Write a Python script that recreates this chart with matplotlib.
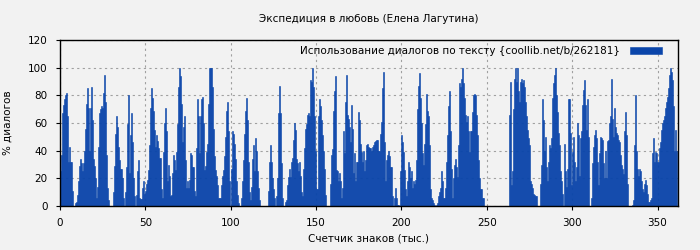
import matplotlib
matplotlib.use("Agg")
import matplotlib.pyplot as plt
import numpy as np

# --- Data (one value per ~0.59k characters) ---
title = "Экспедиция в любовь (Елена Лагутина)"
legend_label = "Использование диалогов по тексту {coollib.net/b/262181}"
x_label = "Счетчик знаков (тыс.)"
y_label = "% диалогов"

text_length_k = 362          # total characters, thousands
x_ticks = [0, 50, 100, 150, 200, 250, 300, 350]
y_ticks = [0, 20, 40, 60, 80, 100, 120]

dialog_pct = [
    # 0 .. 58k
    25, 37, 67, 73, 77, 80, 82, 65, 32, 43, 32, 32, 11, 0, 0,
    2, 3, 8, 18, 29, 34, 31, 25, 31, 40, 56, 74, 85, 71, 40, 71, 86, 62, 34, 29,
    20, 6, 14, 43, 67, 70, 72, 71, 82, 95, 75, 37, 13, 4, 0, 0, 0, 0,
    10, 29, 52, 65, 57, 43, 33, 27, 27, 20, 6, 0,
    10, 28, 59, 80, 24, 51, 67, 46, 20, 7, 0,
    8, 25, 33, 6, 5, 5, 13, 18, 9, 11, 16, 19, 26, 44, 71, 85, 78, 69, 55, 43,
    51, 47, 42, 35,
    # 58 .. 123k
    35, 12, 6, 39, 60, 71, 54, 18, 30, 22,
    7, 8, 24, 37, 33, 26, 39, 59, 86, 100,
    94, 74, 46, 57, 65, 33, 13, 18, 13, 19,
    38, 37, 28, 28, 11, 7, 42, 77, 65, 38,
    65, 77, 79, 60, 26, 29, 39, 45, 74, 100,
    100, 100, 86, 56, 36, 26, 22, 15, 6, 6,
    6, 15, 22, 26, 36, 50, 69, 75, 54, 18,
    0, 27, 54, 52, 45, 34, 18, 8, 2, 0,
    0, 6, 18, 33, 52, 69, 78, 62, 32, 10,
    4, 14, 34, 44, 25, 49, 40, 25, 13, 4,
    0, 0, 0, 0, 0, 0, 0, 0, 11, 32,
    # 123 .. 182k
    44, 32, 20, 12, 6, 0, 7, 20, 67, 87,
    67, 31, 6, 0, 0, 3, 4, 15, 21, 27,
    21, 32, 35, 48, 60, 55, 34, 31, 25, 32,
    22, 10, 7, 27, 42, 56, 59, 66, 67, 65,
    91, 90, 100, 86, 65, 40, 12, 12, 65, 77,
    72, 62, 51, 40, 27, 8, 0, 0, 0, 0,
    16, 37, 41, 69, 83, 94, 26, 25, 18, 24,
    18, 6, 13, 54, 38, 75, 95, 66, 63, 57,
    46, 73, 56, 24, 38, 18, 32, 32, 68, 62,
    45, 39, 32, 40, 25, 33, 44, 45, 43, 42,
    # 182 .. 243k
    42, 40, 43, 44, 46, 47, 48, 48, 40, 40,
    52, 61, 85, 97, 46, 18, 33, 37, 40, 36,
    28, 28, 7, 0, 6, 13, 6, 1, 1, 0,
    25, 51, 46, 39, 26, 12, 7, 18, 32, 28,
    20, 25, 13, 18, 16, 19, 33, 70, 87, 96,
    78, 60, 38, 30, 45, 59, 81, 69, 65, 44,
    12, 6, 4, 2, 1, 0, 1, 2, 7, 10,
    13, 25, 18, 6, 6, 13, 32, 51, 72, 83,
    54, 27, 6, 20, 30, 34, 28, 21, 44, 89,
    86, 92, 100, 89, 78, 66, 61, 65, 54, 39,
    54, 54, 68, 80, 81,
    # 243 .. 305k
    80, 66, 51, 33, 20, 12, 12, 6, 6, 0,
    0, 0, 0, 0, 0, 0, 0, 0, 0, 0, 0, 0,
    0, 0, 0, 0, 0, 0, 0, 0, 0, 0, 0, 0,
    66, 90, 15, 25, 70, 92, 100, 90, 100, 83,
    75, 90, 92, 89, 91, 86, 75, 65, 55, 49,
    44, 18, 16, 13, 9, 8, 7, 7, 0, 0,
    0, 16, 30, 77, 62, 40, 50, 28, 18, 32,
    44, 42, 49, 78, 89, 95, 100, 80, 68, 53,
    44, 25, 18, 9, 0, 45, 25, 14, 27, 77,
    77, 53, 15, 39, 50, 32, 18, 28, 60, 51, 22,
    # 305 .. 362k
    49, 54, 73, 84, 91, 73, 55, 77, 50, 0,
    0, 6, 31, 43, 51, 55, 49, 32, 15, 38,
    50, 49, 48, 31, 20, 40, 20, 47, 48, 60,
    65, 92, 63, 50, 71, 57, 53, 51, 48, 46,
    37, 30, 27, 23, 54, 68, 51, 16, 0, 0,
    0, 0, 1, 4, 44, 80, 40, 27, 22, 27,
    25, 18, 12, 10, 16, 19, 15, 9, 3, 3,
    4, 6, 38, 49, 32, 39, 38, 32, 32, 42,
    46, 55, 60, 62, 65, 71, 75, 79, 85, 95,
    100, 97, 91, 72, 40, 55, 40,
]

bar_color = "#0a45aa"
bg_color = "#f2f2f2"

plt.rcParams["font.family"] = ["DejaVu Sans"]
plt.rcParams["font.size"] = 7.5

step = text_length_k / 618
counter = np.arange(len(dialog_pct)) * step

fig = plt.figure(figsize=(7, 2.5), dpi=100, facecolor=bg_color)
ax = fig.add_axes([60 / 700, 1 - 206 / 250, 618 / 700, 166 / 250])
ax.set_facecolor(bg_color)

# edge in the same colour hides the seams between the narrow bars
ax.bar(counter, dialog_pct, width=step, align="edge", color=bar_color,
       edgecolor=bar_color, linewidth=0.4, label=legend_label, zorder=2)

ax.set_xlim(0, text_length_k)
ax.set_ylim(0, 120)
ax.set_xticks(x_ticks)
ax.set_yticks(y_ticks)

ax.grid(True, color="#a0a0a0", linestyle=(0, (2, 3)), linewidth=0.8, zorder=1)
ax.set_axisbelow(True)

for spine in ax.spines.values():
    spine.set_color("black")
    spine.set_linewidth(1.0)
    spine.set_zorder(3)

ax.tick_params(direction="out", length=3, width=0.8, pad=6, labelsize=7.5,
               colors="black")

ax.set_title(title, fontsize=7.5, pad=13)
ax.set_xlabel(x_label, fontsize=7.5)
ax.set_ylabel(y_label, fontsize=7.5)
ax.xaxis.set_label_coords(0.5, -0.165)
ax.yaxis.set_label_coords(-0.076, 0.5)

leg = ax.legend(loc="upper right", frameon=False, markerfirst=False,
                fontsize=7.5, handlelength=3.1, handleheight=0.65,
                handletextpad=1.0, borderaxespad=0.2,
                bbox_to_anchor=(0.985, 1.0))

fig.savefig("out.png", dpi=100, facecolor=bg_color)
